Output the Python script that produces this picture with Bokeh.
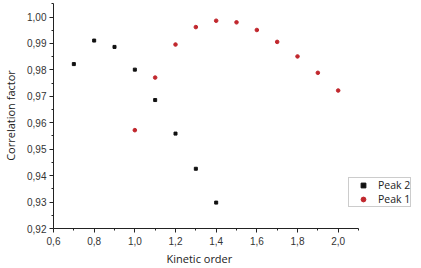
from bokeh.plotting import figure
from bokeh.models import FixedTicker, Range1d, Legend, LegendItem, Title
from bokeh.embed import file_html
from bokeh.resources import INLINE

# Data
peak2_x = [0.7, 0.8, 0.9, 1.0, 1.1, 1.2, 1.3, 1.4]
peak2_y = [0.9822, 0.9911, 0.9887, 0.9801, 0.9686, 0.9559, 0.9426, 0.9298]
peak1_x = [1.0, 1.1, 1.2, 1.3, 1.4, 1.5, 1.6, 1.7, 1.8, 1.9, 2.0]
peak1_y = [0.9572, 0.9771, 0.9896, 0.9962, 0.9986, 0.9980, 0.9951, 0.9906, 0.9851, 0.9789, 0.9722]

x_ticks = [0.6, 0.8, 1.0, 1.2, 1.4, 1.6, 1.8, 2.0]
x_minor = [0.7, 0.9, 1.1, 1.3, 1.5, 1.7, 1.9, 2.1]
y_ticks = [0.92, 0.93, 0.94, 0.95, 0.96, 0.97, 0.98, 0.99, 1.00]
y_minor = [0.925, 0.935, 0.945, 0.955, 0.965, 0.975, 0.985, 0.995, 1.005]

x_labels = {t: f"{t:.1f}".replace(".", ",") for t in x_ticks}
y_labels = {t: f"{t:.2f}".replace(".", ",") for t in y_ticks}

p = figure(width=421, height=268, output_backend="svg", toolbar_location=None,
           x_range=Range1d(0.6, 2.395), y_range=Range1d(0.92, 1.0055),
           min_border_left=50, min_border_right=3, min_border_top=2, min_border_bottom=40)

p.outline_line_color = None
p.grid.visible = False
p.background_fill_color = "white"

r2 = p.scatter(peak2_x, peak2_y, marker="square", size=3, color="#111111")
r1 = p.scatter(peak1_x, peak1_y, marker="circle", size=3.6, color="#c1272d")

xa = p.xaxis[0]
ya = p.yaxis[0]
xa.ticker = FixedTicker(ticks=x_ticks, minor_ticks=x_minor)
ya.ticker = FixedTicker(ticks=y_ticks, minor_ticks=y_minor)
xa.major_label_overrides = x_labels
ya.major_label_overrides = y_labels
xa.bounds = (0.6, 2.1)
ya.bounds = (0.92, 1.005)

for ax in (xa, ya):
    ax.axis_line_color = "#222222"
    ax.major_tick_line_color = "#222222"
    ax.minor_tick_line_color = "#222222"
    ax.major_tick_out = 4
    ax.major_tick_in = 0
    ax.minor_tick_out = 2
    ax.minor_tick_in = 0
    ax.major_label_text_font = "Liberation Sans"
    ax.major_label_text_font_size = "10px"
    ax.major_label_text_color = "#333333"
    ax.axis_label_text_font = "Open Sans"
    ax.axis_label_text_font_size = "11px"
    ax.axis_label_text_font_style = "normal"
    ax.axis_label_text_color = "#222222"

xa.major_label_standoff = 4
ya.major_label_standoff = 3
ya.axis_label = "Correlation factor"
ya.axis_label_standoff = 6

xtitle = Title(text="Kinetic order", align="left", offset=113,
               text_font="Open Sans", text_font_size="11px", text_color="#222222",
               text_font_style="normal", standoff=2)
p.add_layout(xtitle, "below")

legend = Legend(items=[LegendItem(label="Peak 2", renderers=[r2]),
                       LegendItem(label="Peak 1", renderers=[r1])],
                location=(295, 21), padding=0, spacing=0, margin=0,
                glyph_width=28, glyph_height=12, label_height=12, label_standoff=1,
                label_text_font="Open Sans", label_text_font_size="10.5px",
                label_text_color="#222222",
                border_line_color="#999999", border_line_width=1,
                background_fill_alpha=1.0)
p.add_layout(legend)

open("out.html", "w").write(file_html(p, INLINE))
